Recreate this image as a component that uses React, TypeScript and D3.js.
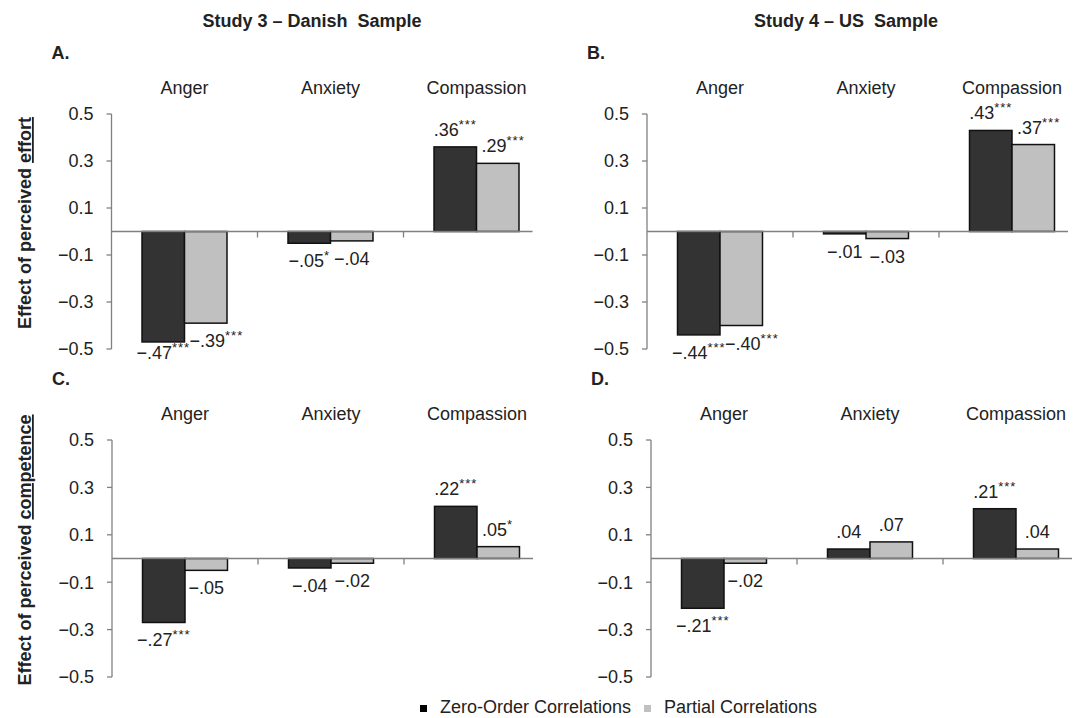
import React from 'react';
import * as d3 from 'd3';

const categories = ['Anger', 'Anxiety', 'Compassion'];
const series = ['zero', 'partial'];

// panel A: Study 3, effort
const aZero = [-0.47, -0.05, 0.36];
const aPartial = [-0.39, -0.04, 0.29];
const aZeroSig = ['***', '*', '***'];
const aPartialSig = ['***', '', '***'];
// panel B: Study 4, effort
const bZero = [-0.44, -0.01, 0.43];
const bPartial = [-0.40, -0.03, 0.37];
const bZeroSig = ['***', '', '***'];
const bPartialSig = ['***', '', '***'];
// panel C: Study 3, competence
const cZero = [-0.27, -0.04, 0.22];
const cPartial = [-0.05, -0.02, 0.05];
const cZeroSig = ['***', '', '***'];
const cPartialSig = ['', '', '*'];
// panel D: Study 4, competence
const dZero = [-0.21, 0.04, 0.21];
const dPartial = [-0.02, 0.07, 0.04];
const dZeroSig = ['***', '', '***'];
const dPartialSig = ['', '', ''];

const yTicks = [-0.5, -0.3, -0.1, 0.1, 0.3, 0.5];

const FONT = '"Liberation Sans", Arial, Helvetica, sans-serif';
const DARK = '#333333';
const LIGHT = '#c0c0c0';
const AXIS = '#808080';
const TEXT = '#222222';

const fmtVal = (v: number) => (v < 0 ? '−' : '') + d3.format('.2f')(Math.abs(v)).replace(/^0/, '');
const fmtTick = d3.format('.1f');

interface PanelProps {
    letter: string;
    x0: number;
    top: number;
    bottom: number;
    zero: number[];
    partial: number[];
    zeroSig: string[];
    partialSig: string[];
}

const Panel: React.FC<PanelProps> = ({ letter, x0, top, bottom, zero, partial, zeroSig, partialSig }) => {
    const x = d3.scaleBand<string>().domain(categories).range([x0, x0 + 438]);
    const xs = d3.scaleBand<string>().domain(series).range([0, x.bandwidth()]).paddingOuter(0.718);
    const y = d3.scaleLinear().domain([-0.5, 0.5]).range([bottom, top]);
    const y0 = y(0);

    const bars = categories.flatMap((c, i) => [
        { c, s: 'zero', v: zero[i], sig: zeroSig[i], fill: DARK },
        { c, s: 'partial', v: partial[i], sig: partialSig[i], fill: LIGHT },
    ]);

    return (
        <g>
            <text x={x0 - 60} y={top - 55} fontSize={18} fontWeight="bold" fill={TEXT}>{letter}</text>
            {categories.map(c => (
                <text key={c} x={x(c)! + x.bandwidth() / 2} y={top - 20} textAnchor="middle" fontSize={18} fill={TEXT}>{c}</text>
            ))}
            {/* y axis */}
            <line x1={x0} x2={x0} y1={y(0.5)} y2={y(-0.5)} stroke={AXIS} strokeWidth={1.3} />
            {yTicks.map(t => (
                <g key={t}>
                    <line x1={x0 - 5} x2={x0} y1={y(t)} y2={y(t)} stroke={AXIS} strokeWidth={1.3} />
                    <text x={x0 - 18} y={y(t)} dy="0.35em" textAnchor="end" fontSize={18} fill={TEXT}>{fmtTick(t)}</text>
                </g>
            ))}
            {/* bars */}
            {bars.map(b => {
                const bx = x(b.c)! + xs(b.s)!;
                const by = Math.min(y(b.v), y0);
                return (
                    <rect key={b.c + b.s} x={bx} y={by} width={xs.bandwidth()} height={Math.abs(y(b.v) - y0)}
                        fill={b.fill} stroke="#111" strokeWidth={1.5} />
                );
            })}
            {/* zero line and category ticks */}
            <line x1={x0} x2={x0 + 421} y1={y0} y2={y0} stroke={AXIS} strokeWidth={1.3} />
            {categories.slice(1).map(c => (
                <line key={c} x1={x(c)!} x2={x(c)!} y1={y0} y2={y0 + 6} stroke={AXIS} strokeWidth={1.3} />
            ))}
            {/* value labels */}
            {bars.map(b => {
                const bx = x(b.c)! + xs(b.s)!;
                const w = xs.bandwidth();
                const ly = b.v >= 0 ? y(b.v) - 11 : Math.min(y(b.v) + 24, y(-0.5) + 10);
                const shifted = b.s === 'partial' && b.sig !== '';
                return (
                    <text key={'l' + b.c + b.s} x={shifted ? bx + 5 : bx + w / 2} y={ly}
                        textAnchor={shifted ? 'start' : 'middle'} fontSize={18} fill={TEXT}>
                        {fmtVal(b.v)}
                        {b.sig && <tspan fontSize={13} dy={-7} letterSpacing={1}>{b.sig}</tspan>}
                    </text>
                );
            })}
        </g>
    );
};

const YTitle: React.FC<{ cy: number; word: string }> = ({ cy, word }) => (
    <text transform={`translate(31, ${cy}) rotate(-90)`} textAnchor="middle" fontSize={18} fontWeight="bold" fill={TEXT}>
        Effect of perceived <tspan textDecoration="underline" style={{ textDecoration: 'underline' }}>{word}</tspan>
    </text>
);

const App: React.FC = () => {
    return (
        <div style={{ position: 'absolute', left: 0, top: 0 }}>
            <svg width={1078} height={718} style={{ display: 'block', background: '#fff', fontFamily: FONT }}>
                <text x={312} y={27} textAnchor="middle" fontSize={18} fontWeight="bold" fill={TEXT} style={{ whiteSpace: 'pre' }}>
                    {'Study 3 – Danish  Sample'}
                </text>
                <text x={846} y={27} textAnchor="middle" fontSize={18} fontWeight="bold" fill={TEXT} style={{ whiteSpace: 'pre' }}>
                    {'Study 4 – US  Sample'}
                </text>

                <Panel letter="A." x0={111.5} top={114} bottom={349} zero={aZero} partial={aPartial} zeroSig={aZeroSig} partialSig={aPartialSig} />
                <Panel letter="B." x0={647} top={114} bottom={349} zero={bZero} partial={bPartial} zeroSig={bZeroSig} partialSig={bPartialSig} />
                <Panel letter="C." x0={112} top={440} bottom={677} zero={cZero} partial={cPartial} zeroSig={cZeroSig} partialSig={cPartialSig} />
                <Panel letter="D." x0={651} top={440} bottom={677} zero={dZero} partial={dPartial} zeroSig={dZeroSig} partialSig={dPartialSig} />

                <YTitle cy={223} word="effort" />
                <YTitle cy={550} word="competence" />

                {/* legend */}
                <rect x={420} y={705} width={7} height={7} fill="#000" />
                <text x={440} y={713} fontSize={18} fill={TEXT}>Zero-Order Correlations</text>
                <rect x={644} y={705} width={7} height={7} fill={LIGHT} />
                <text x={664} y={713} fontSize={18} fill={TEXT}>Partial Correlations</text>
            </svg>
        </div>
    );
};

export default App;
